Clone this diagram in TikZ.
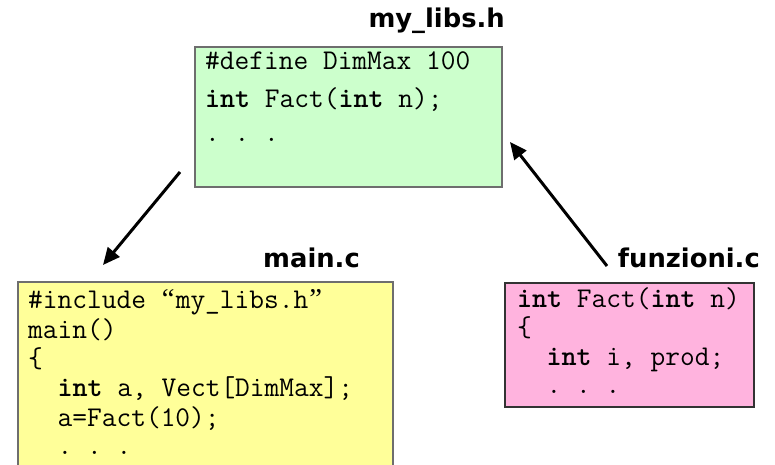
\documentclass[tikz,border=0pt]{standalone}
\usepackage{fontspec}
\newfontfamily\labelfont{DejaVu Sans}
\newfontfamily\quotefont{Liberation Serif}
\newcommand\cquote[1]{\makebox[0.525em]{\quotefont#1}}
\usetikzlibrary{arrows.meta}
\definecolor{boxgreen}{HTML}{CCFFCC}
\definecolor{boxyellow}{HTML}{FFFF99}
\definecolor{boxpink}{HTML}{FFB3DE}
\definecolor{boxline}{HTML}{6E6E6E}
\tikzset{
  codebox/.style={draw=boxline, line width=1.3pt, inner sep=0pt},
  code/.style={anchor=base west, inner sep=0pt, font=\ttfamily\fontsize{28.6}{32}\selectfont},
  flabel/.style={anchor=base east, inner sep=0pt, font=\labelfont\bfseries\fontsize{25.8}{30}\selectfont},
  conn/.style={line width=3pt, -{Triangle[length=17pt,width=15pt]}}
}
\begin{document}
\begin{tikzpicture}[x=1pt,y=-1pt]
\useasboundingbox (0,0) rectangle (775,465);
% boxes
\path[codebox, fill=boxgreen] (195,47) rectangle (502,187);
\path[codebox, fill=boxyellow] (18,282) rectangle (393,475);
\path[codebox, fill=boxpink, draw=black!80] (505,283) rectangle (754,407);
% labels
\node[flabel] (hlabel) at (505,28) {my\_libs.h};
\node[flabel] (mlabel) at (360,267) {main.c};
\node[flabel] (flabel) at (760,267) {funzioni.c};
% green text
\node[code] (g1) at (205,70) {\#define DimMax 100};
\node[code] (g2) at (205,108) {\textbf{int} Fact(\textbf{int} n);};
\node[code] (g3) at (205,142) {.~.~.};
% yellow text
\node[code] (y1) at (28,308) {\#include \cquote{“}my\_libs.h\cquote{”}};
\node[code] (y2) at (28,338) {main()};
\node[code] (y3) at (28,367) {\{};
\node[code] (y4) at (28,396) {\ \ \textbf{int} a, Vect[DimMax];};
\node[code] (y5) at (28,426) {\ \ a=Fact(10);};
\node[code] (y6) at (28,454) {\ \ .~.~.};
% pink text
\node[code] (p1) at (517,307) {\textbf{int} Fact(\textbf{int} n)};
\node[code] (p2) at (517,336) {\{};
\node[code] (p3) at (517,365) {\ \ \textbf{int} i, prod;};
\node[code] (p4) at (517,393) {\ \ .~.~.};
% arrows
\coordinate (a1s) at (180,172);
\coordinate (a1e) at (103,265);
\coordinate (a2s) at (607,266);
\coordinate (a2e) at (510,142);
\draw[conn] (a1s) -- (a1e);
\draw[conn] (a2s) -- (a2e);
\end{tikzpicture}
\end{document}
